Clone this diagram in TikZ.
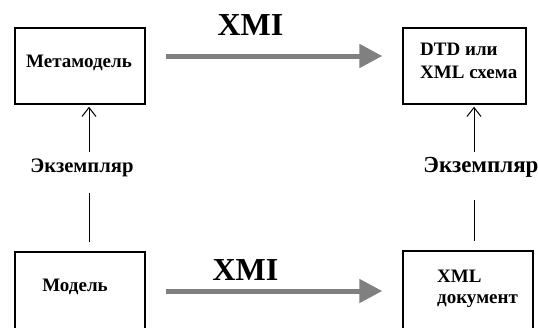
\documentclass[tikz,border=0pt]{standalone}
\usepackage{fontspec}
\setmainfont{Liberation Serif}
\usetikzlibrary{arrows.meta}
\definecolor{flowgray}{RGB}{128,128,128}
\tikzset{
  box/.style={draw=black, line width=1.4pt, rectangle, inner sep=0pt},
  boxtext/.style={font=\bfseries\fontsize{19}{22}\selectfont, inner sep=0pt, align=left},
  xmitext/.style={font=\bfseries\fontsize{32}{36}\selectfont, inner sep=0pt, anchor=base},
  insttext/.style={font=\bfseries\fontsize{20.6}{24}\selectfont, inner sep=0pt, anchor=base},
  flow/.style={draw=flowgray, line width=5pt, -{Triangle[length=23pt,width=23pt]}},
  inst/.style={draw=black, line width=1pt, -{Straight Barb[length=9pt,width=14pt]}},
  instline/.style={draw=black, line width=1pt}
}
\begin{document}
\begin{tikzpicture}[x=1pt, y=-1pt]
  \useasboundingbox (0,0) rectangle (538,327);
  \clip (0,0) rectangle (538,327);

  % boxes
  \node[box, minimum width=130pt, minimum height=76pt] (meta) at (80,66) {};
  \node[box, minimum width=123pt, minimum height=76pt] (dtd) at (464.5,66) {};
  \node[box, minimum width=130pt, minimum height=78pt] (model) at (80,291) {};
  \node[box, minimum width=130pt, minimum height=78pt] (doc) at (468,290) {};

  % box texts
  \node[boxtext] (metat) at (79,63) {Метамодель};
  \node[boxtext, anchor=base west] (dtdt1) at (420,55) {DTD или};
  \node[boxtext, anchor=base west] (dtdt2) at (420,78) {XML схема};
  \node[boxtext] (modelt) at (75,287) {Модель};
  \node[boxtext, anchor=base west] (doct1) at (437,282) {XML};
  \node[boxtext, anchor=base west] (doct2) at (437,303) {документ};

  % XMI transformations
  \node[xmitext] (xmitop) at (250.5,35) {XMI};
  \node[xmitext] (xmibot) at (245.5,280) {XMI};
  \draw[flow, shorten <=20pt, shorten >=20pt] ([yshift=10pt]meta.east) -- ([yshift=10pt]dtd.west);
  \draw[flow, shorten <=20pt, shorten >=20pt] (model.east) -- ([yshift=-1pt]doc.west);

  % instance relations
  \node[insttext] (instl) at (82,172) {Экземпляр};
  \node[insttext, font=\bfseries\fontsize{23}{26}\selectfont] (instr) at (481,172) {Экземпляр};
  \coordinate (la) at (89,152);
  \coordinate (lb) at (89,193);
  \coordinate (ra) at (474,152);
  \coordinate (rb) at (474,200);
  \draw[inst, shorten >=2pt] (la) -- (meta.south -| la);
  \draw[instline] (lb) -- ([yshift=9pt]model.north -| lb);
  \draw[inst, shorten >=2pt] (ra) -- (dtd.south -| ra);
  \draw[instline] (rb) -- ([yshift=9pt]doc.north -| rb);
\end{tikzpicture}
\end{document}
